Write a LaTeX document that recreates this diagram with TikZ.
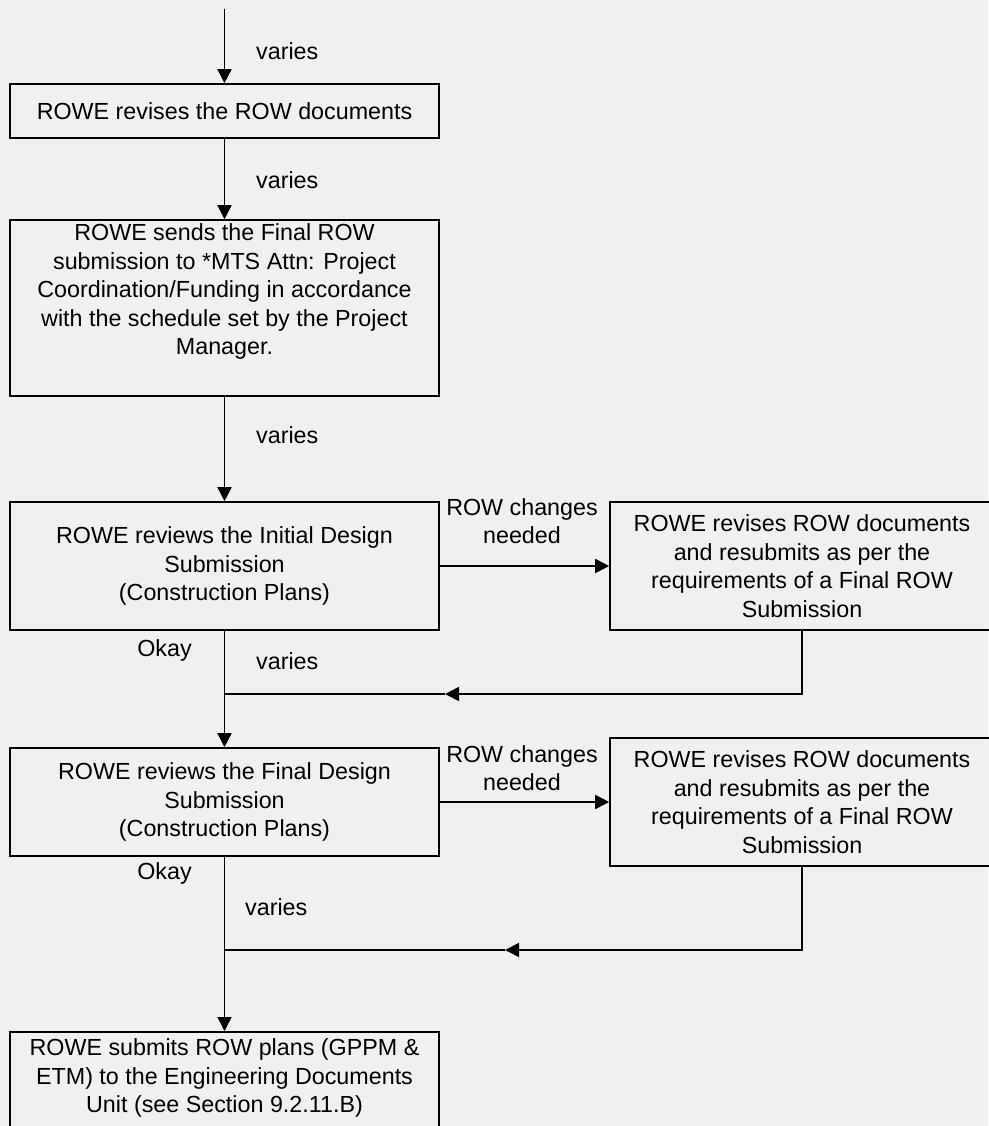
\documentclass[tikz,border=0pt]{standalone}
\usepackage{fontspec}
\setmainfont{Liberation Sans}
\usetikzlibrary{arrows.meta}
\definecolor{bggray}{HTML}{F0F0F0}

\begin{document}
\begin{tikzpicture}[x=1pt,y=-1pt,
  font=\fontsize{23.3}{28.5}\selectfont,
  rowbox/.style={draw,line width=1.6pt,fill=bggray,align=center,inner sep=4pt,minimum width=429pt},
  sidebox/.style={rowbox,minimum width=384pt,minimum height=128pt},
  lbl/.style={align=center,inner sep=0pt},
  flow/.style={line width=1.6pt,-{Triangle[length=14pt,width=14pt]}}]
%background
\fill[bggray] (0,0) rectangle (988,1126);
\useasboundingbox (0,0) rectangle (988,1126);

%main column
\coordinate (start) at (224.5,9);
\node[rowbox,minimum height=54pt] (revise) at (224.5,111) {ROWE revises the ROW documents};
\node[rowbox,minimum height=172pt] (send) at (224.5,308) {ROWE sends the Final ROW\\
submission to *MTS Attn: Project\\
Coordination/Funding in accordance\\
with the schedule set by the Project\\
Manager.\\ \strut};
\node[rowbox,minimum height=128pt] (initial) at (224.5,566) {ROWE reviews the Initial Design\\
Submission\\
(Construction Plans)};
\node[rowbox,minimum height=108pt] (final) at (224.5,802) {ROWE reviews the Final Design\\
Submission\\
(Construction Plans)};
\node[rowbox,minimum height=124pt,anchor=north,inner ysep=7pt] (submit) at (224.5,1031) {ROWE submits ROW plans (GPPM \&\\
ETM) to the Engineering Documents\\
Unit (see Section 9.2.11.B)\\ \strut};

%right side
\node[sidebox] (fixa) at (802,566) {ROWE revises ROW documents\\
and resubmits as per the\\
requirements of a Final ROW\\
Submission};
\node[sidebox] (fixb) at (802,802) {ROWE revises ROW documents\\
and resubmits as per the\\
requirements of a Final ROW\\
Submission};

%arrows
\draw[flow] (start) -- (revise);
\draw[flow] (revise) -- (send);
\draw[flow] (send) -- (initial);
\draw[flow] (initial) -- (final);
\draw[flow] (final) -- (submit);
\draw[flow] (initial) -- (fixa);
\draw[flow] (final) -- (fixb);

%return lines
\coordinate (joina) at (224.5,694);
\coordinate (tipa) at (445,694);
\coordinate (joinb) at (224.5,950);
\coordinate (tipb) at (505,950);
\draw[flow] (fixa.south) |- (tipa);
\draw[line width=1.6pt] (tipa) -- (joina);
\draw[flow] (fixb.south) |- (tipb);
\draw[line width=1.6pt] (tipb) -- (joinb);

%labels
\node[lbl,anchor=west] (vara) at (256,51) {varies};
\node[lbl,anchor=west] (varb) at (256,180) {varies};
\node[lbl,anchor=west] (varc) at (256,435) {varies};
\node[lbl,anchor=west] (vard) at (256,661) {varies};
\node[lbl,anchor=west] (vare) at (245,907) {varies};
\node[lbl] (oka) at (164.5,650) {Okay};
\node[lbl] (okb) at (164.5,873) {Okay};
\node[lbl] (chga) at (522,521) {ROW changes\\needed};
\node[lbl] (chgb) at (522,768) {ROW changes\\needed};
\end{tikzpicture}
\end{document}
